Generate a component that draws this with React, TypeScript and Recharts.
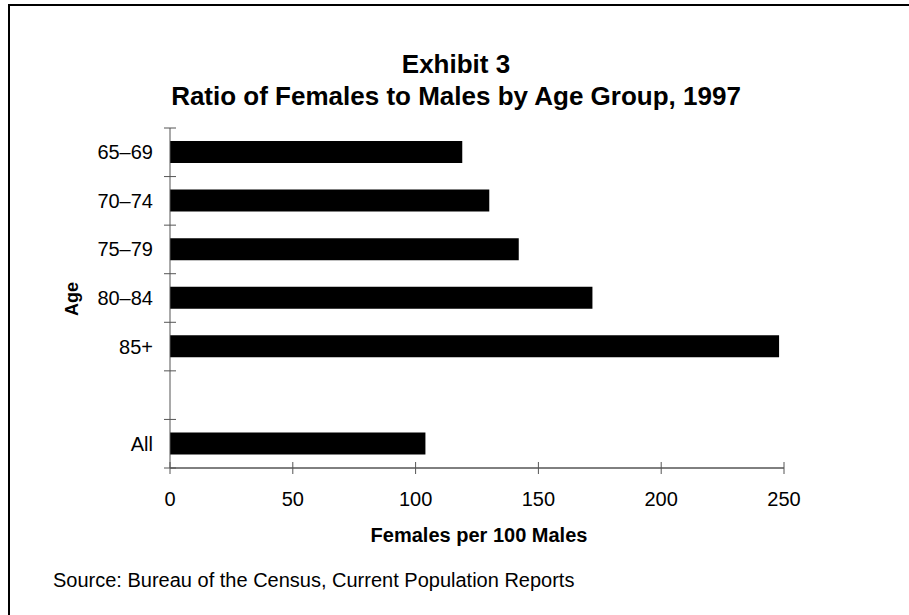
import React from 'react';
import { BarChart, Bar, XAxis, YAxis } from 'recharts';

const ageGroups = ['65–69', '70–74', '75–79', '80–84', '85+', '', 'All'];
const ratios: (number | null)[] = [119, 130, 142, 172, 248, null, 104];
const xTicks = [0, 50, 100, 150, 200, 250];

const TITLE_LINE_1 = 'Exhibit 3';
const TITLE_LINE_2 = 'Ratio of Females to Males by Age Group, 1997';
const X_TITLE = 'Females per 100 Males';
const Y_TITLE = 'Age';
const SOURCE = 'Source: Bureau of the Census, Current Population Reports';

const data = ageGroups.map((age, i) => ({ age, ratio: ratios[i] }));

const W = 909;
const H = 615;
const MARGIN = { top: 128, right: 125, bottom: 117, left: 0 };
const X_AXIS_H = 30;
const Y_AXIS_W = 170;
const PLOT_H = H - MARGIN.top - MARGIN.bottom - X_AXIS_H;
const BAND = PLOT_H / ageGroups.length;
const FONT = '"Liberation Sans", Arial, Helvetica, sans-serif';

const YTick = (props: any) => {
  const { x, y, payload } = props;
  const half = BAND / 2;
  const isLast = payload.value === ageGroups[ageGroups.length - 1];
  return (
    <g>
      <line x1={x - 6} x2={x + 6} y1={y - half} y2={y - half} stroke="#555" strokeWidth={1} />
      {isLast && <line x1={x - 6} x2={x + 6} y1={y + half} y2={y + half} stroke="#555" strokeWidth={1} />}
      <text x={x - 17} y={y} dy="0.35em" textAnchor="end" fontSize={20} fontFamily={FONT} fill="#000">
        {payload.value}
      </text>
    </g>
  );
};

const XTick = (props: any) => {
  const { x, y, payload } = props;
  return (
    <g>
      <line x1={x} x2={x} y1={y - 6} y2={y + 6} stroke="#555" strokeWidth={1} />
      <text x={x} y={y + 31} dy="0.35em" textAnchor="middle" fontSize={20} fontFamily={FONT} fill="#000">
        {payload.value}
      </text>
    </g>
  );
};

export default function App() {
  return (
    <div style={{ position: 'absolute', left: 0, top: 0, width: W, height: H, background: '#fff', fontFamily: FONT }}>
      <BarChart width={W} height={H} data={data} layout="vertical" margin={MARGIN}>
        <XAxis
          type="number"
          domain={[0, 250]}
          ticks={xTicks}
          allowDataOverflow
          height={X_AXIS_H}
          axisLine={{ stroke: '#000', strokeWidth: 1 }}
          tickLine={false}
          tickSize={0}
          tickMargin={0}
          tick={(p: any) => <XTick {...p} />}
        />
        <YAxis
          type="category"
          dataKey="age"
          width={Y_AXIS_W}
          axisLine={{ stroke: '#555', strokeWidth: 1 }}
          tickLine={false}
          tickSize={0}
          tickMargin={0}
          interval={0}
          tick={(p: any) => <YTick {...p} />}
        />
        <Bar dataKey="ratio" fill="#000" barSize={22} isAnimationActive={false} />
      </BarChart>
      <svg
        width={W}
        height={H}
        style={{ position: 'absolute', left: 0, top: 0, pointerEvents: 'none' }}
      >
        <rect x={8} y={4} width={W - 8} height={2} fill="#000" />
        <rect x={8} y={4} width={2} height={H - 4} fill="#000" />
        <text x={456} y={73} textAnchor="middle" fontSize={26} fontWeight="bold" fontFamily={FONT} fill="#000">
          {TITLE_LINE_1}
        </text>
        <text x={456} y={105} textAnchor="middle" fontSize={26} fontWeight="bold" fontFamily={FONT} fill="#000">
          {TITLE_LINE_2}
        </text>
        <text x={479} y={542} textAnchor="middle" fontSize={20} fontWeight="bold" fontFamily={FONT} fill="#000">
          {X_TITLE}
        </text>
        <text
          x={72}
          y={299}
          dy="0.35em"
          textAnchor="middle"
          fontSize={18}
          fontWeight="bold"
          fontFamily={FONT}
          fill="#000"
          transform="rotate(-90 72 299)"
        >
          {Y_TITLE}
        </text>
        <text x={53} y={587} fontSize={20} fontFamily={FONT} fill="#000">
          {SOURCE}
        </text>
      </svg>
    </div>
  );
}
